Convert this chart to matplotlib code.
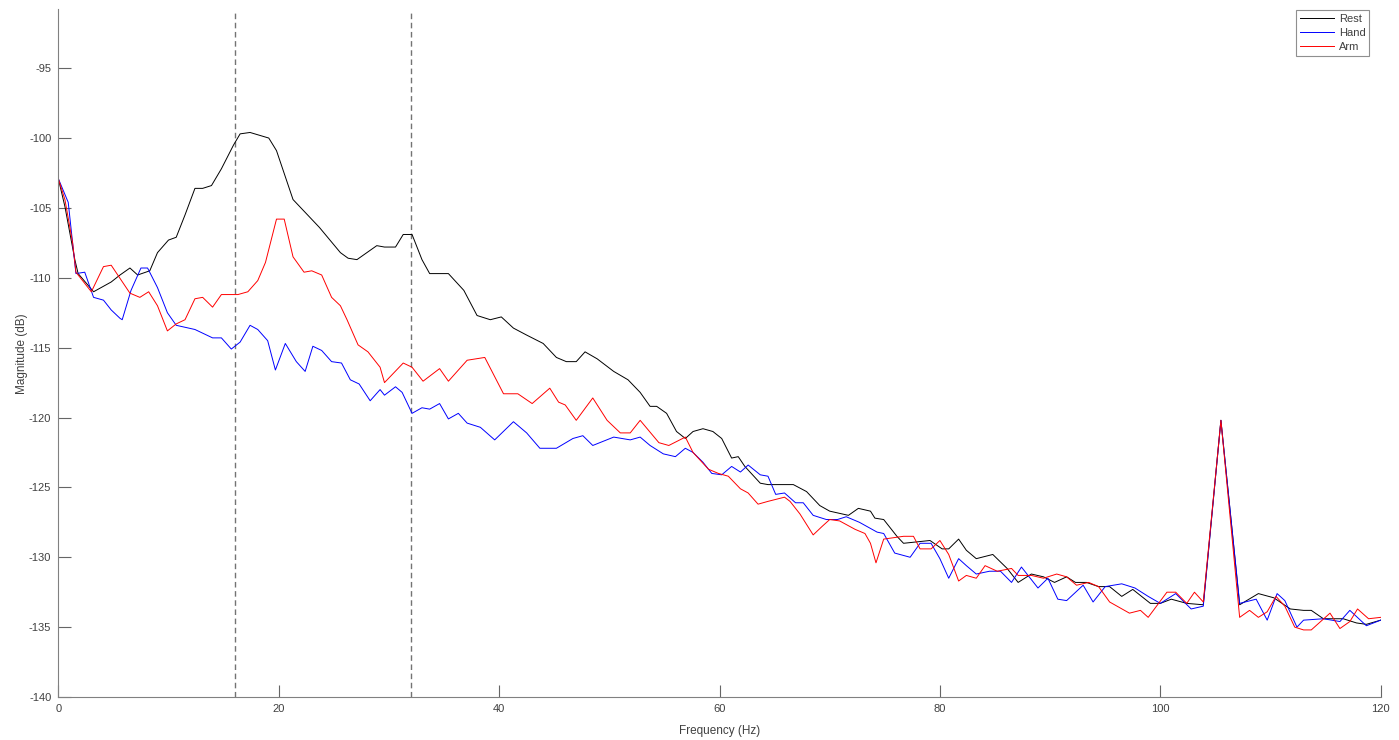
import matplotlib
matplotlib.use("Agg")
import matplotlib.pyplot as plt

plt.rcParams['font.family'] = ['Liberation Sans', 'DejaVu Sans']
plt.rcParams['axes.unicode_minus'] = False

# ---- data (frequency in Hz, magnitude in dB) ----
rest_f = [0.0, 0.6, 1.5, 1.8, 3.2, 4.8, 5.6, 6.5, 7.2, 8.3, 9.0, 10.0, 10.7, 11.5, 12.4, 13.1,
          13.9, 14.8, 15.9, 16.5, 17.4, 19.1, 19.8, 21.3, 22.5, 23.7, 25.6, 26.3, 27.1, 28.0,
          28.9, 29.6, 30.6, 31.3, 32.1, 33.0, 33.7, 35.4, 36.8, 38.0, 39.2, 40.2, 41.3, 42.5,
          44.0, 45.2, 46.1, 47.0, 47.8, 48.9, 50.4, 51.7, 52.8, 53.7, 54.3, 55.2, 56.1, 56.9,
          57.6, 58.5, 59.4, 60.2, 61.1, 61.7, 62.3, 63.7, 64.4, 66.7, 67.9, 69.1, 70.0, 71.7,
          72.6, 73.7, 74.1, 74.9, 76.1, 76.7, 77.9, 79.1, 80.2, 80.8, 81.7, 82.4, 83.3, 84.8,
          86.1, 87.1, 88.3, 89.4, 90.4, 91.5, 92.3, 93.3, 94.4, 95.4, 96.5, 97.5, 99.1, 100.0,
          101.0, 102.4, 103.9, 105.5, 107.2, 108.9, 110.3, 111.8, 113.0, 113.7, 114.8, 116.6,
          117.8, 118.7, 120.0]
rest_db = [-102.9, -104.9, -108.7, -109.7, -111.0, -110.3, -109.8, -109.3, -109.8, -109.5,
           -108.2, -107.3, -107.1, -105.5, -103.6, -103.6, -103.4, -102.2, -100.5, -99.7,
           -99.6, -100.0, -100.9, -104.4, -105.4, -106.4, -108.2, -108.6, -108.7, -108.2,
           -107.7, -107.8, -107.8, -106.9, -106.9, -108.7, -109.7, -109.7, -110.9, -112.7,
           -113.0, -112.8, -113.6, -114.1, -114.7, -115.7, -116.0, -116.0, -115.3, -115.8,
           -116.7, -117.3, -118.2, -119.2, -119.2, -119.7, -121.0, -121.5, -121.0, -120.8,
           -121.0, -121.5, -122.9, -122.8, -123.5, -124.7, -124.8, -124.8, -125.3, -126.3,
           -126.7, -127.0, -126.5, -126.7, -127.2, -127.3, -128.5, -129.0, -128.9, -128.8,
           -129.4, -129.4, -128.7, -129.5, -130.1, -129.8, -130.8, -131.8, -131.2, -131.4,
           -131.8, -131.4, -131.8, -131.8, -132.1, -132.1, -132.8, -132.3, -133.3, -133.3,
           -133.0, -133.3, -133.4, -120.2, -133.4, -132.6, -132.9, -133.7, -133.8, -133.8,
           -134.4, -134.4, -134.7, -134.8, -134.5]

hand_f = [0.0, 0.9, 1.6, 2.4, 3.2, 4.1, 4.8, 5.6, 5.8, 6.6, 7.5, 8.1, 9.0, 9.9, 10.7, 12.4,
          14.0, 14.8, 15.7, 16.5, 17.4, 18.1, 19.0, 19.7, 20.6, 21.6, 22.4, 23.1, 23.9, 24.8,
          25.7, 26.5, 27.3, 28.3, 29.2, 29.6, 30.6, 31.2, 32.1, 33.0, 33.7, 34.6, 35.4, 36.3,
          37.1, 38.3, 39.6, 41.3, 42.5, 43.7, 45.2, 46.7, 47.6, 48.5, 50.4, 51.9, 52.8, 53.7,
          54.9, 56.0, 56.9, 57.6, 58.5, 59.3, 60.2, 61.1, 61.9, 62.6, 63.7, 64.4, 65.1, 65.9,
          66.9, 67.6, 68.5, 69.7, 70.7, 71.5, 72.7, 74.3, 74.9, 75.9, 77.3, 78.2, 79.2, 80.0,
          80.8, 81.7, 82.4, 83.3, 84.5, 85.5, 86.5, 87.4, 88.9, 89.8, 90.7, 91.5, 93.0, 93.9,
          95.0, 96.5, 97.7, 98.9, 100.0, 101.4, 102.8, 103.9, 105.5, 107.2, 108.7, 109.7,
          110.6, 111.3, 112.4, 113.0, 114.8, 116.3, 117.2, 118.7, 120.0]
hand_db = [-102.9, -104.6, -109.7, -109.6, -111.4, -111.6, -112.3, -112.9, -113.0, -110.9,
           -109.3, -109.3, -110.7, -112.5, -113.4, -113.7, -114.3, -114.3, -115.1, -114.6,
           -113.4, -113.7, -114.5, -116.6, -114.7, -116.0, -116.7, -114.9, -115.2, -116.0,
           -116.1, -117.3, -117.6, -118.8, -118.0, -118.4, -117.8, -118.2, -119.7, -119.3,
           -119.4, -119.0, -120.1, -119.7, -120.4, -120.7, -121.6, -120.3, -121.1, -122.2,
           -122.2, -121.5, -121.3, -122.0, -121.4, -121.6, -121.4, -122.0, -122.6, -122.8,
           -122.2, -122.5, -123.2, -124.0, -124.1, -123.5, -123.9, -123.4, -124.1, -124.2,
           -125.5, -125.4, -126.1, -126.1, -127.0, -127.3, -127.3, -127.1, -127.5, -128.2,
           -128.3, -129.7, -130.0, -129.0, -129.0, -130.1, -131.5, -130.1, -130.6, -131.2,
           -131.0, -131.0, -131.8, -130.7, -132.2, -131.5, -133.0, -133.1, -132.0, -133.2,
           -132.1, -131.9, -132.2, -132.8, -133.3, -132.6, -133.7, -133.5, -120.2, -133.3,
           -133.0, -134.5, -132.6, -133.1, -135.0, -134.5, -134.4, -134.6, -133.8, -134.9,
           -134.5]

arm_f = [0.0, 0.6, 1.3, 1.6, 3.0, 4.1, 4.8, 6.5, 7.4, 8.2, 9.0, 9.9, 10.7, 11.5, 12.4, 13.1,
         14.0, 14.8, 16.3, 17.2, 18.1, 18.8, 19.8, 20.5, 21.3, 22.3, 23.0, 23.9, 24.8, 25.6,
         26.2, 27.2, 28.1, 29.2, 29.6, 31.3, 32.1, 33.1, 34.6, 35.4, 37.1, 38.7, 40.4, 41.7,
         43.0, 44.6, 45.4, 46.0, 47.0, 48.5, 49.8, 51.0, 51.9, 52.8, 54.5, 55.4, 56.4, 56.9,
         57.6, 59.0, 59.9, 60.8, 61.9, 62.6, 63.5, 64.4, 65.9, 66.4, 67.3, 68.5, 69.3, 70.0,
         70.9, 72.3, 73.2, 73.7, 74.2, 74.9, 75.8, 76.7, 77.6, 78.2, 79.2, 80.0, 80.8, 81.7,
         82.4, 83.3, 84.1, 85.2, 86.5, 87.1, 88.3, 89.4, 90.6, 91.5, 92.4, 93.5, 94.4, 95.4,
         97.2, 98.2, 98.9, 100.6, 101.4, 102.4, 103.1, 103.9, 105.5, 107.2, 108.1, 108.9,
         109.7, 110.5, 111.3, 112.2, 113.0, 113.7, 115.4, 116.3, 117.2, 117.9, 118.9, 120.0]
arm_db = [-102.9, -104.4, -107.5, -109.6, -111.0, -109.2, -109.1, -111.1, -111.4, -111.0,
          -112.0, -113.8, -113.3, -113.0, -111.5, -111.4, -112.1, -111.2, -111.2, -111.0,
          -110.2, -108.9, -105.8, -105.8, -108.5, -109.6, -109.5, -109.8, -111.4, -112.0,
          -113.0, -114.8, -115.3, -116.4, -117.5, -116.1, -116.4, -117.4, -116.5, -117.4,
          -115.9, -115.7, -118.3, -118.3, -119.0, -117.9, -118.9, -119.1, -120.2, -118.6,
          -120.2, -121.1, -121.1, -120.2, -121.8, -122.0, -121.6, -121.4, -122.5, -123.7,
          -124.0, -124.2, -125.1, -125.4, -126.2, -126.0, -125.7, -126.0, -126.9, -128.4,
          -127.8, -127.3, -127.4, -128.0, -128.3, -129.0, -130.4, -128.7, -128.6, -128.5,
          -128.5, -129.4, -129.4, -128.8, -129.8, -131.7, -131.3, -131.5, -130.6, -131.0,
          -130.8, -131.3, -131.3, -131.5, -131.2, -131.4, -132.0, -131.8, -132.1, -133.2,
          -134.0, -133.8, -134.3, -132.5, -132.5, -133.3, -132.5, -133.2, -120.2, -134.3,
          -133.8, -134.3, -133.9, -132.8, -133.5, -135.0, -135.2, -135.2, -134.0, -135.1,
          -134.6, -133.7, -134.4, -134.3]

band_edges = [16, 32]
series_labels = ['Rest', 'Hand', 'Arm']
x_ticks = [0, 20, 40, 60, 80, 100, 120]
y_ticks = [-140, -135, -130, -125, -120, -115, -110, -105, -100, -95]

# ---- figure ----
W, H = 1399, 740
fig = plt.figure(figsize=(W / 100, H / 100), dpi=100)
ax = fig.add_axes([58.3 / W, 1 - 697 / H, (1380.7 - 58.3) / W, (697 - 9.5) / H])

text_c = '#404040'
ax.plot(rest_f, rest_db, color='black', lw=0.7, label=series_labels[0])
ax.plot(hand_f, hand_db, color='blue', lw=0.7, label=series_labels[1])
ax.plot(arm_f, arm_db, color='red', lw=0.7, label=series_labels[2])
for b in band_edges:
    ax.axvline(b, color='0.45', lw=1.0, ls=(0, (4.0, 2.6)), zorder=0)

ax.set_xlim(0, 120)
ax.set_ylim(-140, -90.8)
ax.set_xticks(x_ticks)
ax.set_yticks(y_ticks)
ax.tick_params(direction='in', length=9, width=0.8, color='0.4',
               labelsize=8, labelcolor=text_c, pad=5)
for s in ['top', 'right']:
    ax.spines[s].set_visible(False)
for s in ['left', 'bottom']:
    ax.spines[s].set_color('0.5')
    ax.spines[s].set_linewidth(0.8)

ax.set_xlabel('Frequency (Hz)', fontsize=8.5, color=text_c, labelpad=8)
ax.set_ylabel('Magnitude (dB)', fontsize=8.5, color=text_c, labelpad=1)

leg = ax.legend(loc='upper right', bbox_to_anchor=(1369.3 / W, 1 - 10 / H),
                bbox_transform=fig.transFigure, borderaxespad=0, fontsize=8,
                frameon=True, fancybox=False, handlelength=3.1, handletextpad=0.4,
                labelspacing=0.35, borderpad=0.35)
leg.get_frame().set_edgecolor('0.45')
leg.get_frame().set_linewidth(0.8)
for t in leg.get_texts():
    t.set_color(text_c)

fig.savefig('out.png', dpi=100)
